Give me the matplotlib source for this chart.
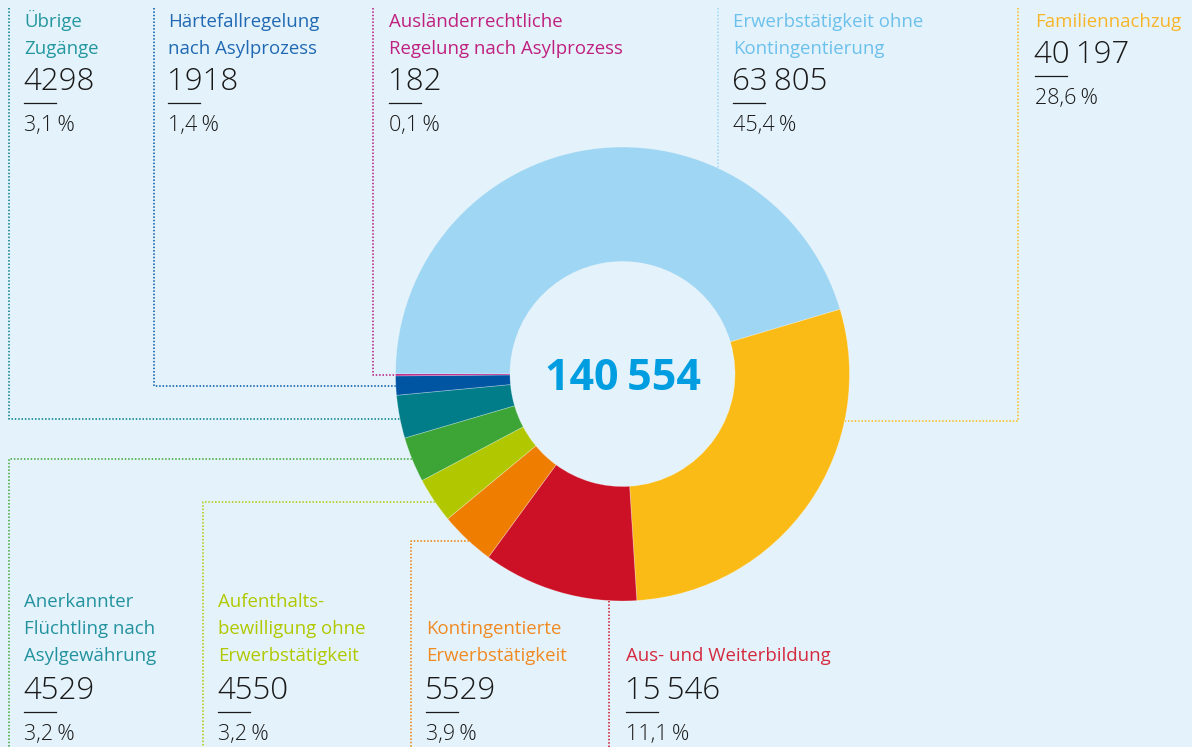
import matplotlib.pyplot as plt
import numpy as np

plt.rcParams['font.family'] = ['Open Sans', 'DejaVu Sans']

# data, clockwise from 9 o'clock
labels = ["Erwerbstätigkeit ohne\nKontingentierung", "Familiennachzug",
          "Aus- und Weiterbildung", "Kontingentierte\nErwerbstätigkeit",
          "Aufenthalts-\nbewilligung ohne\nErwerbstätigkeit",
          "Anerkannter\nFlüchtling nach\nAsylgewährung", "Übrige\nZugänge",
          "Härtefallregelung\nnach Asylprozess",
          "Ausländerrechtliche\nRegelung nach Asylprozess"]
values = [63805, 40197, 15546, 5529, 4550, 4529, 4298, 1918, 182]
wedge_colors = ["#9fd6f3", "#fbbb17", "#cc1126", "#ef7d00", "#b1c800",
                "#3ca535", "#007d89", "#0055a2", "#b8157f"]
text_colors = ["#6cc0ec", "#f8b52a", "#d42a3f", "#f08a23", "#b1c800",
               "#23929f", "#23979f", "#2169b3", "#c0207f"]

bg = "#e4f3fb"
cx, cy, R, r_in = 622.5, 374, 227, 112.5

# layout: (text x, top/bottom, line type, line x, line y)
layout = [
    (733, 'top', 'v', 718, None),
    (1035, 'top', 'vh', 1018, 421),
    (626, 'bottom', 'v', 609, None),
    (426, 'bottom', 'hv', 411, 541),
    (218, 'bottom', 'hv', 203, 502),
    (24, 'bottom', 'hv', 9, 459),
    (24, 'top', 'vh', 9, 419),
    (168, 'top', 'vh', 154, 386),
    (389, 'top', 'vh', 373, 375),
]

total = sum(values)


def fmt_num(v):
    s = str(v)
    if v >= 10000:
        s = s[:-3] + "\u2009" + s[-3:]
    return s


def fmt_pct(v):
    return f"{100 * v / total:.1f}".replace(".", ",") + "\u2009%"


fig = plt.figure(figsize=(11.92, 7.47), dpi=100, facecolor=bg)
ax = fig.add_axes([0, 0, 1, 1])
ax.set_facecolor(bg)

ax.pie(values, colors=wedge_colors, startangle=180, counterclock=True,
       center=(cx, cy), radius=R,
       wedgeprops=dict(width=R - r_in, linewidth=0.6,
                       edgecolor=(1, 1, 1, 0.3)))
ax.set_xlim(0, 1192)
ax.set_ylim(747, 0)
ax.set_aspect('equal')
ax.axis('off')

ax.text(cx, cy + 4, fmt_num(total), ha='center', va='center', fontsize=31,
        fontweight='bold', color="#009ee0")


def edge_x(y):
    return cx - np.sqrt(R ** 2 - (y - cy) ** 2)


def edge_y_top(x):
    return cy - np.sqrt(R ** 2 - (x - cx) ** 2)


def edge_y_bot(x):
    return cy + np.sqrt(R ** 2 - (x - cx) ** 2)


dots = dict(linestyle=(0, (1, 1.2)), linewidth=1.1, zorder=0)
lsp = 26.8

for lab, v, wc, tc, (tx, pos, kind, lx, ly) in zip(labels, values, wedge_colors,
                                                    text_colors, layout):
    lines = lab.split("\n")
    if pos == 'top':
        base = [27 + i * lsp for i in range(len(lines))]
        nb = base[-1] + 36
    else:
        nb = 699
        base = [nb - 38 - (len(lines) - 1 - i) * lsp for i in range(len(lines))]
    for b, t in zip(base, lines):
        ax.text(tx, b, t, fontsize=13.4, color=tc, va='baseline', ha='left')
    ax.text(tx - 1, nb, fmt_num(v), fontsize=22.5, color="#1a1a1a",
            va='baseline', ha='left', fontweight='light')
    ax.plot([tx, tx + 32], [nb + 13, nb + 13], color="#1a1a1a", lw=0.9)
    ax.text(tx, nb + 41, fmt_pct(v), fontsize=15.5, color="#1a1a1a",
            va='baseline', ha='left', fontweight='light')

    # connector lines
    if kind == 'v' and pos == 'top':
        ax.plot([lx, lx], [8, edge_y_top(lx)], color=wc, **dots)
    elif kind == 'v':
        ax.plot([lx, lx], [edge_y_bot(lx), 747], color=wc, **dots)
    elif kind == 'vh' and lx > cx:
        ex = cx + np.sqrt(R ** 2 - (ly - cy) ** 2)
        ax.plot([lx, lx, ex], [8, ly, ly], color=wc, **dots)
    elif kind == 'vh':
        ax.plot([lx, lx, edge_x(ly)], [8, ly, ly], color=wc, **dots)
    else:
        ax.plot([edge_x(ly), lx, lx], [ly, ly, 747], color=wc, **dots)

fig.savefig("out.png", dpi=100, facecolor=bg)
